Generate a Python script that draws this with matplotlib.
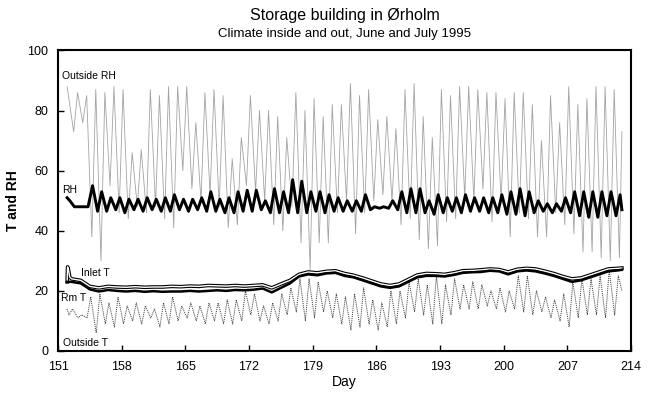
import numpy as np
import matplotlib
matplotlib.use("Agg")
import matplotlib.pyplot as plt

plt.rcParams['font.family'] = ['Liberation Sans', 'DejaVu Sans']

# DATA ----------------------------------------------------------------------
# outside RH: one morning max and one afternoon min per day
rh_out_days = list(range(152, 213))
rh_out_max = [88, 86, 85, 87, 86, 88, 87, 66, 67, 87, 85, 88, 88, 88, 76, 86, 87, 85, 64, 71,
              85, 80, 80, 78, 71, 86, 80, 84, 78, 82, 82, 89, 85, 87, 77, 78, 74, 87, 89, 78,
              71, 87, 85, 88, 88, 87, 86, 86, 84, 86, 86, 82, 70, 85, 76, 88, 82, 84, 88, 88,
              87]
rh_out_min = [73, 76, 38, 30, 55, 46, 44, 48, 46, 48, 44, 41, 60, 54, 50, 52, 48, 41, 42, 55,
              53, 50, 42, 40, 48, 36, 27, 36, 36, 46, 50, 39, 46, 50, 52, 50, 42, 44, 37, 34,
              35, 43, 44, 51, 50, 54, 43, 50, 38, 46, 44, 38, 38, 46, 42, 39, 33, 33, 31, 30,
              31]
rh_out_end = 73

# room RH: evening peak and morning trough per day
rh_in_start = [51, 50, 48, 48, 48]
rh_in_start_days = [152.0, 152.3, 152.8, 153.5, 154.3]
rh_in_days = list(range(154, 213))
rh_in_max = [55, 53, 51, 51, 50.5, 50.5, 51, 50.5, 51, 52, 50.5, 50.5, 51, 53, 50.5, 51, 53, 53.5,
             53.5, 50, 54, 53, 57, 56.5, 53, 53, 52, 51, 50, 50, 52, 48, 48, 50, 53, 54, 54, 50,
             52, 51, 51, 52, 51, 51, 51, 52, 53, 54, 53, 50, 49, 49, 51, 53, 53, 53, 53, 53, 52]
rh_in_min = [46.5, 46.5, 47, 46, 47, 46.5, 47, 46.5, 46.5, 47, 46.5, 47, 46.5, 46.5, 46, 46,
             46.5, 46.5, 47, 46, 46, 46, 46, 46, 46.5, 46, 46.5, 46.5, 46.5, 46.5, 47, 47.5,
             47.5, 47, 46, 46, 46, 45.5, 46, 46.5, 46, 46.5, 46.5, 46, 46, 45.5, 45.5, 45, 46,
             46.5, 46, 46.5, 46, 45, 44.5, 44.5, 45, 45]
rh_in_end = 47

# inlet and room temperature, one value per day
t_days = list(range(152, 214))
inlet_start = [28, 27, 24.5]
inlet_start_days = [152.05, 152.15, 152.3]
inlet_t = [24, 23.5, 21.5, 21, 21.5, 21.3, 21.2, 21.4, 21.2, 21.3, 21.3, 21.5, 21.4, 21.6, 21.5,
           21.8, 21.7, 21.6, 21.8, 21.6, 21.8, 22, 21, 22.3, 23.5, 25.5, 26.3, 26, 26.5, 26.7,
           25.8, 25.2, 24.3, 23.3, 22.3, 21.8, 22.3, 23.8, 25.3, 25.8, 25.7, 25.5, 26, 26.7,
           26.8, 27, 27.3, 27.1, 26.3, 27.2, 27.5, 27.3, 26.6, 25.8, 24.8, 24, 24.3, 25.3,
           26.3, 27.3, 27.5, 27.6]
room_start = 23
room_t = [23, 22.5, 20.5, 19.8, 20.3, 20, 19.8, 20, 19.7, 19.9, 19.7, 19.8, 19.8, 20, 19.8, 20,
          20.2, 20, 20.3, 20.2, 20.4, 20.8, 19.5, 21, 22.5, 24.8, 25.5, 25.2, 25.8, 26, 25,
          24.5, 23.5, 22.5, 21.5, 21, 21.5, 23, 24.5, 25, 25, 24.8, 25.3, 26, 26.2, 26.3, 26.7,
          26.5, 25.5, 26.5, 26.8, 26.5, 25.8, 25, 24, 23, 23.5, 24.5, 25.5, 26.5, 26.8, 27]

# outside temperature: morning min and afternoon max per day
t_out_days = list(range(152, 213))
t_out_start = 14
t_out_min = [12, 11, 11, 6, 9, 8, 9, 10, 9, 11, 8, 9, 10, 11, 10, 9, 10, 9, 9, 10, 12, 10, 9, 10,
             12, 13, 10, 11, 13, 11, 9, 7, 8, 9, 7, 8, 9, 11, 13, 12, 9, 9, 12, 14, 14, 14, 15,
             14, 13, 14, 13, 12, 13, 11, 10, 8, 11, 12, 12, 11, 12]
t_out_max = [14, 12, 18, 19, 16, 18, 15, 16, 15, 14, 16, 18, 15, 16, 15, 16, 16, 17, 17, 20, 19,
             15, 16, 19, 21, 24, 24, 23, 20, 19, 18, 19, 21, 17, 16, 20, 20, 23, 24, 22, 25, 22,
             24, 22, 23, 22, 20, 21, 20, 25, 25, 20, 18, 17, 19, 23, 24, 24, 25, 27, 25]
t_out_end = 20


def interleave(days, first, second, off1, off2):
    t, v = [], []
    for d, a, b in zip(days, first, second):
        t += [d + off1, d + off2]
        v += [a, b]
    return t, v


# BUILD SERIES --------------------------------------------------------------
x_rh_out, y_rh_out = interleave(rh_out_days, rh_out_max, rh_out_min, 0.15, 0.72)
x_rh_out = [152.0] + x_rh_out[1:] + [213.0]
y_rh_out = y_rh_out + [rh_out_end]

# room RH: trough (d+0.35) then peak (d+0.8)
x_rh_in, y_rh_in = [], []
for i, d in enumerate(rh_in_days):
    if i > 0:
        x_rh_in.append(d + 0.35)
        y_rh_in.append(rh_in_min[i - 1])
    x_rh_in.append(d + 0.8)
    y_rh_in.append(rh_in_max[i])
x_rh_in = rh_in_start_days + x_rh_in + [213.0]
y_rh_in = rh_in_start + y_rh_in + [rh_in_end]

x_inlet = [152.0] + inlet_start_days + [d + 0.5 for d in t_days[:-1]] + [213.0]
y_inlet = [room_start] + inlet_start + inlet_t[:-1] + [inlet_t[-1]]
x_room = [152.0] + [d + 0.5 for d in t_days[:-1]] + [213.0]
y_room = [room_start] + room_t[:-1] + [room_t[-1]]

x_t_out, y_t_out = interleave(t_out_days, t_out_min, t_out_max, 0.2, 0.6)
x_t_out = [152.0] + x_t_out + [213.0]
y_t_out = [t_out_start] + y_t_out + [t_out_end]

# PLOT ----------------------------------------------------------------------
fig = plt.figure(figsize=(6.49, 3.97), dpi=100)
ax = fig.add_axes([0.0894, 0.1159, 0.8829, 0.7569])

ax.plot(x_rh_out, y_rh_out, color='#a3a3a3', lw=0.6)
ax.plot(x_t_out, y_t_out, color='#3a3a3a', lw=0.7, ls=(0, (1, 1)))
ax.plot(x_rh_in, y_rh_in, color='black', lw=2.1, solid_joinstyle='round')
ax.plot(x_inlet, y_inlet, color='black', lw=2.6)
ax.plot(x_inlet, y_inlet, color='white', lw=1.0)
ax.plot(x_room, y_room, color='black', lw=1.8)

ax.text(151.45, 91.5, 'Outside RH', fontsize=7.5, va='center')
ax.text(151.45, 53.5, 'RH', fontsize=7.5, va='center')
ax.text(153.5, 25.8, 'Inlet T', fontsize=7.5, va='center')
ax.text(151.3, 17.6, 'Rm T', fontsize=7.5, va='center')
ax.text(151.6, 2.5, 'Outside T', fontsize=7.5, va='center')

ax.set_xlim(151, 214)
ax.set_ylim(0, 100)
ax.set_xticks(range(151, 215, 7))
ax.set_yticks(range(0, 101, 20))
ax.tick_params(direction='in', length=4, width=1, labelsize=9, top=False, right=False)
ax.tick_params(axis='x', pad=7)
ax.tick_params(axis='y', pad=7)
for s in ax.spines.values():
    s.set_linewidth(1.5)

ax.set_xlabel('Day', fontsize=10, labelpad=2)
ax.set_ylabel('T and RH', fontsize=10, fontweight='bold', labelpad=5)

fig.text(0.531, 0.96, 'Storage building in \u00d8rholm', ha='center', va='center', fontsize=11.5)
fig.text(0.531, 0.915, 'Climate inside and out, June and July 1995', ha='center', va='center',
         fontsize=9.5)

fig.savefig('out.png', dpi=100)
